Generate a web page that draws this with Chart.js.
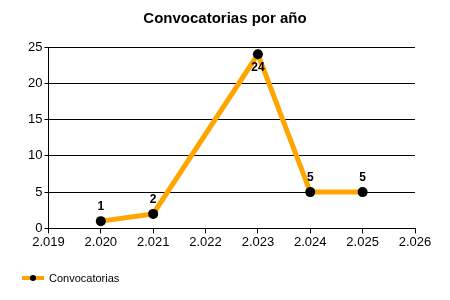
<!DOCTYPE html>
<html>
<head>
<meta charset="utf-8">
<script src="https://cdn.jsdelivr.net/npm/chart.js@4"></script>
<style>
  html, body { margin: 0; padding: 0; background: #fff; }
  #wrap { width: 450px; height: 300px; }
</style>
</head>
<body>
<div id="wrap"><canvas id="chart" width="450" height="300"></canvas></div>
<script>
const YEARS = [2020, 2021, 2023, 2024, 2025];
const COUNTS = [1, 2, 24, 5, 5];
const SERIES_LABEL = 'Convocatorias';
const TITLE = 'Convocatorias por año';

const FONT = '"Liberation Sans", Arial, sans-serif';
const LINE_COLOR = '#ffa500';

function fmtYear(v) {
  // Spanish thousands separator: 2020 -> 2.020
  const s = String(Math.round(v));
  return s.slice(0, 1) + '.' + s.slice(1);
}

// title centred on the whole canvas (built-in title centres on the padded box)
const centeredTitle = {
  id: 'centeredTitle',
  afterDraw(chart) {
    const ctx = chart.ctx;
    ctx.save();
    ctx.font = 'bold 15px ' + FONT;
    ctx.fillStyle = '#000';
    ctx.textAlign = 'center';
    ctx.textBaseline = 'middle';
    ctx.fillText(TITLE, chart.width / 2, 19);
    ctx.restore();
  },
};

// value labels above each point (below when close to the top)
const valueLabels = {
  id: 'valueLabels',
  afterDatasetsDraw(chart) {
    const ctx = chart.ctx;
    const meta = chart.getDatasetMeta(0);
    ctx.save();
    ctx.font = 'bold 12px ' + FONT;
    ctx.fillStyle = '#000';
    ctx.textAlign = 'center';
    ctx.textBaseline = 'middle';
    meta.data.forEach((pt, i) => {
      const nearTop = pt.y - chart.chartArea.top < 15;
      const y = nearTop ? pt.y + 13 : pt.y - 14;
      ctx.fillText(String(COUNTS[i]), pt.x, y);
    });
    ctx.restore();
  },
};

// legend: line + marker + text, bottom left
const lineLegend = {
  id: 'lineLegend',
  afterDraw(chart) {
    const ctx = chart.ctx;
    const y = 278;
    ctx.save();
    ctx.strokeStyle = LINE_COLOR;
    ctx.lineWidth = 4;
    ctx.beginPath();
    ctx.moveTo(22, y);
    ctx.lineTo(44, y);
    ctx.stroke();
    ctx.fillStyle = '#000';
    ctx.beginPath();
    ctx.arc(33, y, 3, 0, Math.PI * 2);
    ctx.fill();
    ctx.font = '11px ' + FONT;
    ctx.textBaseline = 'middle';
    ctx.fillText(chart.data.datasets[0].label, 49, y + 1);
    ctx.restore();
  },
};

new Chart(document.getElementById('chart'), {
  type: 'line',
  data: {
    datasets: [{
      label: SERIES_LABEL,
      data: YEARS.map((x, i) => ({ x, y: COUNTS[i] })),
      borderColor: LINE_COLOR,
      borderWidth: 5,
      pointRadius: 5,
      pointBackgroundColor: '#000',
      pointBorderColor: '#000',
      pointBorderWidth: 0,
      tension: 0,
      fill: false,
    }],
  },
  options: {
    responsive: false,
    animation: false,
    layout: { padding: { left: 26, right: 35, top: 47, bottom: 49 } },
    plugins: {
      legend: { display: false },
      tooltip: { enabled: false },
      title: { display: false },
    },
    scales: {
      x: {
        type: 'linear',
        min: 2019,
        max: 2026,
        ticks: {
          stepSize: 1,
          color: '#000',
          font: { family: FONT, size: 13 },
          callback: (v) => fmtYear(v),
          maxRotation: 0,
          padding: 1,
        },
        grid: { drawOnChartArea: false, drawTicks: true, tickLength: 5, color: '#000' },
        border: { color: '#000', width: 1 },
      },
      y: {
        min: 0,
        max: 25,
        ticks: {
          stepSize: 5,
          color: '#000',
          font: { family: FONT, size: 13 },
          padding: 2,
        },
        grid: { color: '#000', tickLength: 4 },
        border: { color: '#000', width: 1 },
      },
    },
  },
  plugins: [valueLabels, lineLegend, centeredTitle],
});
</script>
</body>
</html>
